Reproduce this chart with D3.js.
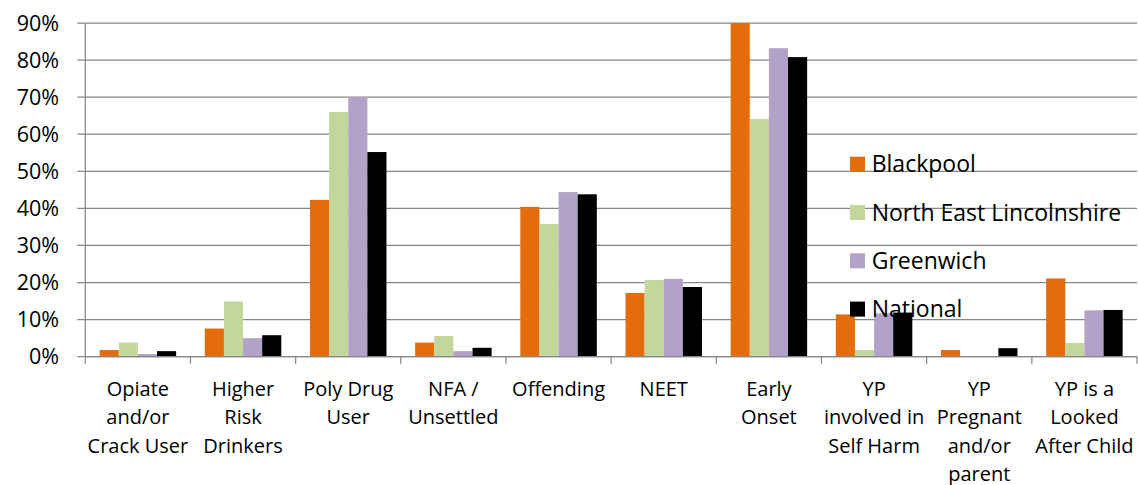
<!DOCTYPE html>
<style>* {padding:0; margin:0; border: 0; outline: 0;} body {background:#fff;}</style>
<body>
<script src="https://d3js.org/d3.v7.min.js"></script>
<script>

// category labels, line breaks as in the original chart
categories = [
  "Opiate\nand/or\nCrack User",
  "Higher\nRisk\nDrinkers",
  "Poly Drug\nUser",
  "NFA /\nUnsettled",
  "Offending",
  "NEET",
  "Early\nOnset",
  "YP\ninvolved in\nSelf Harm",
  "YP\nPregnant\nand/or\nparent",
  "YP is a\nLooked\nAfter Child"
]

seriesNames = ["Blackpool", "North East Lincolnshire", "Greenwich", "National"]
seriesColors = ["#E46C0A", "#C3D69B", "#B3A2C7", "#000000"]

blackpool = [1.8, 7.6, 42.3, 3.8, 40.4, 17.2, 90.0, 11.4, 1.8, 21.1]
neLincs   = [3.8, 14.9, 66.0, 5.6, 35.8, 20.7, 64.1, 1.8, 0, 3.7]
greenwich = [0.7, 5.0, 70.0, 1.5, 44.4, 21.0, 83.2, 11.7, 0, 12.5]
national  = [1.5, 5.8, 55.2, 2.4, 43.8, 18.8, 80.8, 11.9, 2.3, 12.6]

yTicks = [0, 10, 20, 30, 40, 50, 60, 70, 80, 90]

var W = 1138, H = 485
var plotL = 85.3, plotR = 1137, plotT = 23, plotB = 356.7
var font = "'Open Sans', 'DejaVu Sans', sans-serif"
var gridCol = '#878787'

data = categories.map(function(c, i){
  return [blackpool[i], neLincs[i], greenwich[i], national[i]]
})

svg = d3.select('body')
        .append('svg')
          .attr('width', W)
          .attr('height', H)

x = d3.scaleBand().domain(d3.range(categories.length)).range([plotL, plotR])
xs = d3.scaleBand().domain(d3.range(seriesNames.length)).range([0, x.bandwidth()]).paddingOuter(0.75)
y = d3.scaleLinear().domain([0, 90]).range([plotB, plotT])

// gridlines (with the small outside ticks on the left)
svg.append('g').selectAll('line')
    .data(yTicks)
  .enter().append('line')
    .attr('x1', plotL - 8)
    .attr('x2', plotR)
    .attr('y1', function(d){return y(d)})
    .attr('y2', function(d){return y(d)})
    .style('stroke', gridCol)
    .style('stroke-width', 1.25)

// y labels
svg.append('g').selectAll('text')
    .data(yTicks)
  .enter().append('text')
    .attr('x', 59)
    .attr('y', function(d){return y(d)})
    .attr('dy', '0.36em')
    .attr('text-anchor', 'end')
    .style('font-family', font)
    .style('font-size', '21.5px')
    .style('fill', '#000')
    .text(function(d){return d + '%'})

// bars
g = svg.append('g').selectAll('g')
    .data(data)
  .enter().append('g')
    .attr('transform', function(d, i){return 'translate(' + x(i) + ',0)'})

g.selectAll('rect')
    .data(function(d){return d})
  .enter().append('rect')
    .attr('x', function(d, j){return xs(j)})
    .attr('y', function(d){return y(d)})
    .attr('width', xs.bandwidth())
    .attr('height', function(d){return plotB - y(d)})
    .style('fill', function(d, j){return seriesColors[j]})

// axis lines
svg.append('line')
    .attr('x1', plotL).attr('x2', plotL)
    .attr('y1', plotT).attr('y2', plotB)
    .style('stroke', gridCol).style('stroke-width', 1.25)

svg.append('line')
    .attr('x1', plotL).attr('x2', plotR)
    .attr('y1', plotB).attr('y2', plotB)
    .style('stroke', gridCol).style('stroke-width', 1.25)

svg.append('g').selectAll('line')
    .data(d3.range(categories.length + 1))
  .enter().append('line')
    .attr('x1', function(d){return plotL + d * x.step()})
    .attr('x2', function(d){return plotL + d * x.step()})
    .attr('y1', plotB)
    .attr('y2', plotB + 7)
    .style('stroke', gridCol)
    .style('stroke-width', 1.25)

// category labels
lab = svg.append('g').selectAll('text')
    .data(categories)
  .enter().append('text')
    .attr('text-anchor', 'middle')
    .style('font-family', font)
    .style('font-size', '20px')
    .style('fill', '#000')

lab.selectAll('tspan')
    .data(function(d, i){return d.split('\n').map(function(s){return [s, i]})})
  .enter().append('tspan')
    .attr('x', function(d){return x(d[1]) + x.bandwidth() / 2})
    .attr('y', function(d, k){return 396 + k * 28.3})
    .text(function(d){return d[0]})

// legend (no background, sits on top of the grid)
leg = svg.append('g').selectAll('g')
    .data(seriesNames)
  .enter().append('g')
    .attr('transform', function(d, i){return 'translate(850,' + (164.2 + i * 48.3) + ')'})

leg.append('rect')
    .attr('x', 0)
    .attr('y', -7.5)
    .attr('width', 15)
    .attr('height', 15)
    .style('fill', function(d, i){return seriesColors[i]})

leg.append('text')
    .attr('x', 21.7)
    .attr('y', 0)
    .attr('dy', '0.36em')
    .style('font-family', font)
    .style('font-size', '23px')
    .style('fill', '#000')
    .text(function(d){return d})

</script>
